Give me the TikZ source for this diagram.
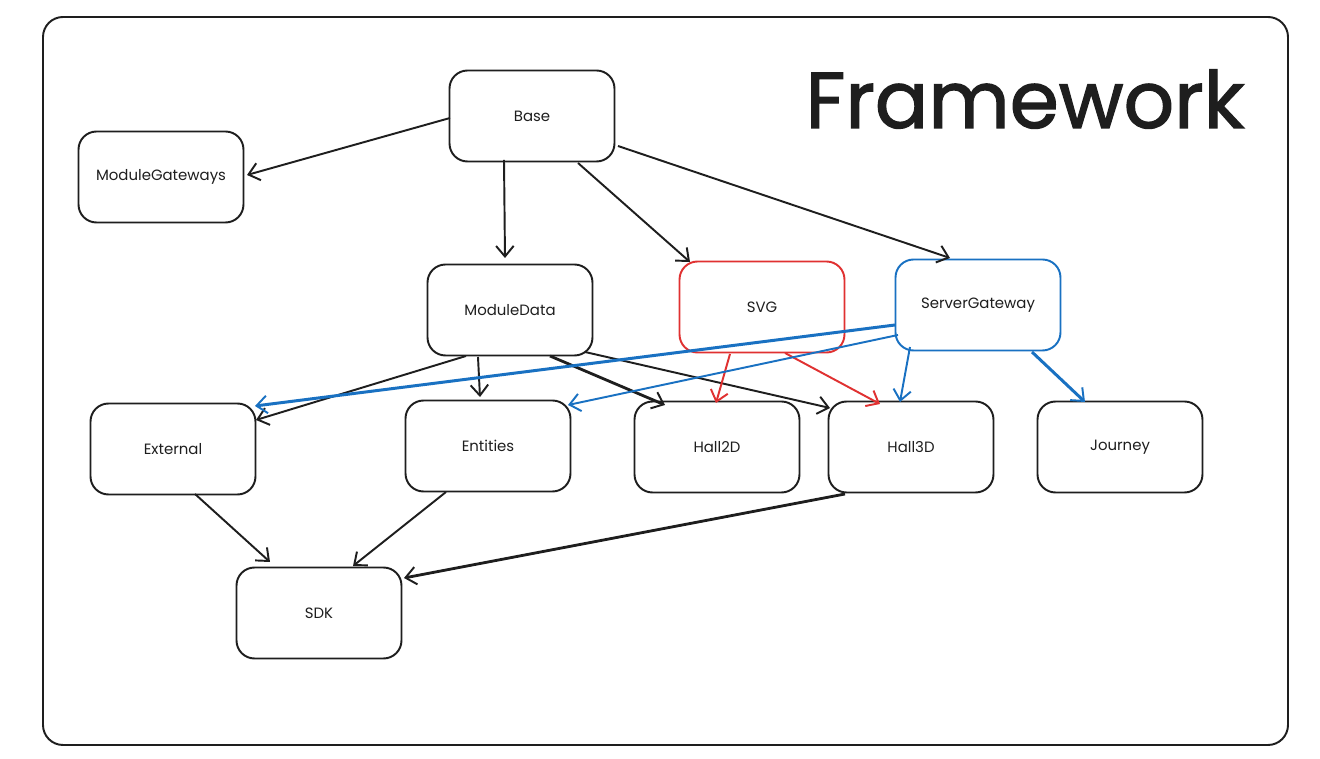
\documentclass[tikz,border=0pt]{standalone}
\usepackage{fontspec}
\setmainfont{Poppins}
\newfontfamily\titlefont[FakeBold=1.6]{Poppins}
\usetikzlibrary{arrows.meta,calc}
\definecolor{ink}{HTML}{1E1E1E}
\definecolor{exred}{HTML}{E03131}
\definecolor{exblue}{HTML}{1971C2}
\begin{document}
\begin{tikzpicture}[x=0.02cm,y=-0.02cm,
  box/.style={draw=ink,line width=1.1pt,rounded corners=0.36cm,minimum width=3.3cm,minimum height=1.82cm,inner sep=0pt,font=\fontsize{8.5}{10}\selectfont,text=ink},
  redbox/.style={box,draw=exred},
  bluebox/.style={box,draw=exblue},
  link/.style={draw=ink,line width=1.1pt,-{Straight Barb[length=6pt,width=10pt,line width=1.1pt]}},
  rlink/.style={link,draw=exred},
  blink/.style={link,draw=exblue}]
\useasboundingbox[fill=white] (0,0) rectangle (1320,759);
\draw[ink,line width=1.1pt,rounded corners=0.4cm] (43,17) rectangle (1288,745);
\node[font=\titlefont\fontsize{45}{50}\selectfont,text=ink,anchor=center] (title) at (1025,99) {Framework};
\node[box] (base) at (532,116) {Base};
\node[box] (mg) at (161,177) {ModuleGateways};
\node[box] (md) at (510,310) {ModuleData};
\node[redbox] (svg) at (762,307) {SVG};
\node[bluebox] (sg) at (978,305) {ServerGateway};
\node[box] (ext) at (173,449) {External};
\node[box] (ent) at (488,446) {Entities};
\node[box] (h2d) at (717,447) {Hall2D};
\node[box] (h3d) at (911,447) {Hall3D};
\node[box] (jour) at (1120,447) {Journey};
\node[box] (sdk) at (319,613) {SDK};
% Base
\draw[link] ($(base)+(-82,2)$) -- ($(mg)+(86,-2)$);
\draw[link] ($(base)+(-28,44)$) -- ($(md)+(-5,-52)$);
\draw[link] ($(base)+(46,47)$) -- ($(svg)+(-72,-45)$);
\draw[link] ($(base)+(86,30)$) -- ($(sg)+(-28,-47)$);
% ModuleData
\draw[link] ($(md)+(-44,46)$) -- ($(ext)+(83,-29)$);
\draw[link] ($(md)+(-32,47)$) -- ($(ent)+(-8,-49)$);
\draw[link,line width=1.6pt] ($(md)+(40,46)$) -- ($(h2d)+(-52,-42)$);
\draw[link] ($(md)+(75,42)$) -- ($(h3d)+(-81,-39)$);
% SVG
\draw[rlink] ($(svg)+(-32,47)$) -- ($(h2d)+(-1,-44)$);
\draw[rlink] ($(svg)+(23,46)$) -- ($(h3d)+(-31,-43)$);
% ServerGateway
\draw[blink,line width=1.7pt] ($(sg)+(-83,20)$) -- ($(ext)+(82,-43)$);
\draw[blink] ($(sg)+(-80,30)$) -- ($(ent)+(80,-41)$);
\draw[blink] ($(sg)+(-68,42)$) -- ($(h3d)+(-11,-45)$);
\draw[blink,line width=1.7pt] ($(sg)+(54,47)$) -- ($(jour)+(-35,-45)$);
% to SDK
\draw[link] ($(ext)+(22,45)$) -- ($(sdk)+(-49,-51)$);
\draw[link] ($(ent)+(-42,46)$) -- ($(sdk)+(34,-47)$);
\draw[link,line width=1.6pt] ($(h3d)+(-66,47)$) -- ($(sdk)+(85,-35)$);
\end{tikzpicture}
\end{document}
